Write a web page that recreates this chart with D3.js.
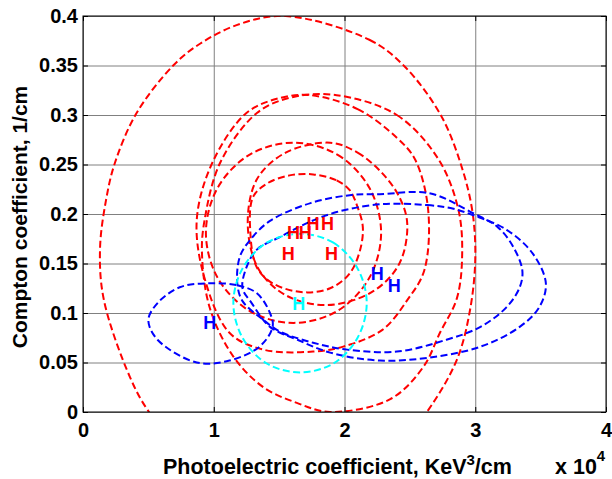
<!DOCTYPE html>
<html>
<head>
<meta charset="utf-8">
<title>Compton vs photoelectric</title>
<script src="https://d3js.org/d3.v7.min.js"></script>
<style>
body { margin: 0; background: #fff; }
text { font-family: "Liberation Sans", Arial, sans-serif; font-weight: bold; }
</style>
</head>
<body>
<section id="container"></section>
<script>
// tick values / labels
var xTicks = [0, 1, 2, 3, 4];
var xTickLabels = ["0", "1", "2", "3", "4"];
var yTicks = [0, 0.05, 0.1, 0.15, 0.2, 0.25, 0.3, 0.35, 0.4];
var yTickLabels = ["0", "0.05", "0.1", "0.15", "0.2", "0.25", "0.3", "0.35", "0.4"];

// contour outlines: [photoelectric (x1e4), compton]
var redContours = [
	[[1.55,0.400],[2.19,0.376],[2.46,0.349],[2.74,0.299],[2.90,0.246],[2.98,0.201],[3.00,0.154],[2.96,0.103],[2.86,0.053],[2.63,0.0],[2.25,-0.06],[1.57,-0.085],[0.90,-0.06],[0.505,0.0],[0.36,0.035],[0.16,0.113],[0.13,0.164],[0.176,0.214],[0.245,0.252],[0.41,0.302],[0.69,0.350],[0.895,0.372],[1.2,0.392]],
	[[1.94,0.320],[2.40,0.300],[2.72,0.255],[2.87,0.205],[2.90,0.160],[2.86,0.115],[2.73,0.080],[2.60,0.045],[2.35,0.013],[1.89,0.000],[1.64,0.009],[1.38,0.025],[1.15,0.056],[0.97,0.105],[0.91,0.160],[0.93,0.194],[1.05,0.252],[1.33,0.302],[1.60,0.318]],
	[[1.74,0.320],[2.10,0.306],[2.40,0.277],[2.54,0.255],[2.64,0.204],[2.61,0.143],[2.48,0.113],[2.29,0.083],[1.99,0.066],[1.76,0.061],[1.38,0.063],[1.12,0.080],[0.93,0.135],[0.87,0.194],[0.99,0.252],[1.25,0.302],[1.50,0.317]],
	[[1.61,0.272],[1.945,0.260],[2.19,0.2265],[2.28,0.181],[2.19,0.1355],[1.945,0.102],[1.61,0.090],[1.275,0.102],[1.03,0.1355],[0.94,0.181],[1.03,0.2265],[1.275,0.260]],
	[[1.89,0.272],[2.10,0.262],[2.29,0.241],[2.42,0.217],[2.48,0.190],[2.42,0.150],[2.22,0.122],[1.87,0.108],[1.55,0.118],[1.34,0.145],[1.26,0.190],[1.33,0.235],[1.55,0.262]],
	[[1.76,0.240],[1.94,0.234],[2.04,0.224],[2.10,0.207],[2.14,0.187],[2.12,0.164],[2.04,0.140],[1.89,0.125],[1.68,0.121],[1.45,0.130],[1.33,0.146],[1.28,0.181],[1.30,0.217],[1.41,0.231],[1.58,0.239]]
];
var blueContours = [
	[[0.95,0.130],[1.18,0.128],[1.33,0.120],[1.43,0.100],[1.45,0.086],[1.35,0.066],[1.12,0.052],[0.87,0.050],[0.57,0.073],[0.50,0.093],[0.57,0.110],[0.74,0.126]],
	[[2.27,0.220],[2.65,0.221],[2.98,0.201],[3.17,0.187],[3.29,0.167],[3.36,0.143],[3.34,0.126],[3.24,0.106],[3.04,0.086],[2.78,0.073],[2.40,0.061],[2.02,0.063],[1.76,0.070],[1.51,0.081],[1.38,0.093],[1.22,0.112],[1.18,0.130],[1.20,0.157],[1.28,0.174],[1.43,0.193],[1.74,0.211],[2.04,0.219]],
	[[2.29,0.210],[2.63,0.209],[2.81,0.206],[2.98,0.199],[3.24,0.184],[3.44,0.160],[3.54,0.130],[3.49,0.106],[3.34,0.086],[3.04,0.066],[2.65,0.055],[2.27,0.052],[1.89,0.060],[1.64,0.073],[1.43,0.086],[1.29,0.110],[1.22,0.125],[1.25,0.146],[1.33,0.164],[1.51,0.177],[1.70,0.190],[1.94,0.202]]
];
var cyanContours = [
	[[1.66,0.180],[1.915,0.171],[2.10,0.145],[2.17,0.110],[2.10,0.075],[1.915,0.049],[1.66,0.040],[1.405,0.049],[1.22,0.075],[1.15,0.110],[1.22,0.145],[1.405,0.171]]
];

// "H" markers at the contour centres
var redCentres = [[1.57,0.160],[1.90,0.160],[1.76,0.190],[1.61,0.181],[1.87,0.190],[1.70,0.181]];
var blueCentres = [[0.97,0.090],[2.25,0.140],[2.38,0.128]];
var cyanCentres = [[1.65,0.110]];

var W = 612, H = 479;
var padL = 83, padR = 606, padT = 16, padB = 412;

var svg = d3.select("#container")
	.append("svg")
	.attr("width", W)
	.attr("height", H);

var x = d3.scaleLinear().domain([0, 4]).range([padL, padR]);
var y = d3.scaleLinear().domain([0, 0.4]).range([padB, padT]);

//clip so the big contour gets cut at the axes
svg.append("defs").append("clipPath")
	.attr("id", "plotclip")
	.append("rect")
	.attr("x", padL).attr("y", padT)
	.attr("width", padR - padL).attr("height", padB - padT);

//grid
svg.append("g")
	.attr("transform", "translate(0," + padB + ")")
	.call(d3.axisBottom(x).tickValues(xTicks).tickSize(-(padB - padT)).tickFormat(""))
	.call(function(g) {
		g.select(".domain").remove();
		g.selectAll("line").attr("stroke", "#808080").attr("stroke-width", 1);
	});
svg.append("g")
	.attr("transform", "translate(" + padL + ",0)")
	.call(d3.axisLeft(y).tickValues(yTicks).tickSize(-(padR - padL)).tickFormat(""))
	.call(function(g) {
		g.select(".domain").remove();
		g.selectAll("line").attr("stroke", "#808080").attr("stroke-width", 1);
	});

//contours
var line = d3.line()
	.x(function(d) { return x(d[0]); })
	.y(function(d) { return y(d[1]); })
	.curve(d3.curveCatmullRomClosed.alpha(0.5));

var plot = svg.append("g").attr("clip-path", "url(#plotclip)");

function drawContours(data, colour) {
	plot.selectAll(null)
		.data(data)
		.enter()
		.append("path")
		.attr("d", line)
		.attr("fill", "none")
		.attr("stroke", colour)
		.attr("stroke-width", 2)
		.attr("stroke-dasharray", "7,3.5");
}
drawContours(redContours, "#ff0000");
drawContours(blueContours, "#0000ff");
drawContours(cyanContours, "#00ffff");

function drawCentres(data, colour) {
	plot.selectAll(null)
		.data(data)
		.enter()
		.append("text")
		.attr("x", function(d) { return x(d[0]); })
		.attr("y", function(d) { return y(d[1]); })
		.attr("text-anchor", "middle")
		.attr("dy", "0.36em")
		.attr("font-size", 18)
		.attr("fill", colour)
		.text("H");
}
drawCentres(redCentres, "#ff0000");
drawCentres(blueCentres, "#0000ff");
drawCentres(cyanCentres, "#00ffff");

//box with inward ticks
svg.append("rect")
	.attr("x", padL).attr("y", padT)
	.attr("width", padR - padL).attr("height", padB - padT)
	.attr("fill", "none").attr("stroke", "#000").attr("stroke-width", 1);

svg.append("g")
	.attr("transform", "translate(0," + padB + ")")
	.call(d3.axisBottom(x).tickValues(xTicks).tickSize(-5).tickPadding(11).tickFormat(function(d, i) { return xTickLabels[i]; }))
	.call(function(g) {
		g.select(".domain").remove();
		g.selectAll("text").attr("font-size", 20).attr("fill", "#000")
			.attr("font-family", "Liberation Sans, Arial, sans-serif");
	});
svg.append("g")
	.attr("transform", "translate(0," + padT + ")")
	.call(d3.axisTop(x).tickValues(xTicks).tickSize(-5).tickFormat(""))
	.call(function(g) { g.select(".domain").remove(); });
svg.append("g")
	.attr("transform", "translate(" + padL + ",0)")
	.call(d3.axisLeft(y).tickValues(yTicks).tickSize(-5).tickPadding(5).tickFormat(function(d, i) { return yTickLabels[i]; }))
	.call(function(g) {
		g.select(".domain").remove();
		g.selectAll("text").attr("font-size", 20).attr("fill", "#000")
			.attr("font-family", "Liberation Sans, Arial, sans-serif");
	});
svg.append("g")
	.attr("transform", "translate(" + padR + ",0)")
	.call(d3.axisRight(y).tickValues(yTicks).tickSize(-5).tickFormat(""))
	.call(function(g) { g.select(".domain").remove(); });

//axis labels
var xlab = svg.append("text")
	.attr("x", 163)
	.attr("y", 474)
	.attr("font-size", 21.5)
	.attr("fill", "#000");
xlab.append("tspan").text("Photoelectric coefficient, KeV");
xlab.append("tspan").attr("dy", -9).attr("font-size", 15).text("3");
xlab.append("tspan").attr("dy", 9).text("/cm");

var mult = svg.append("text")
	.attr("x", 555)
	.attr("y", 474)
	.attr("font-size", 21.5)
	.attr("fill", "#000");
mult.append("tspan").text("x 10");
mult.append("tspan").attr("dy", -13).attr("font-size", 15).text("4");

svg.append("text")
	.attr("transform", "translate(27,217) rotate(-90)")
	.attr("text-anchor", "middle")
	.attr("font-size", 21)
	.attr("fill", "#000")
	.text("Compton coefficient, 1/cm");
</script>
</body>
</html>
